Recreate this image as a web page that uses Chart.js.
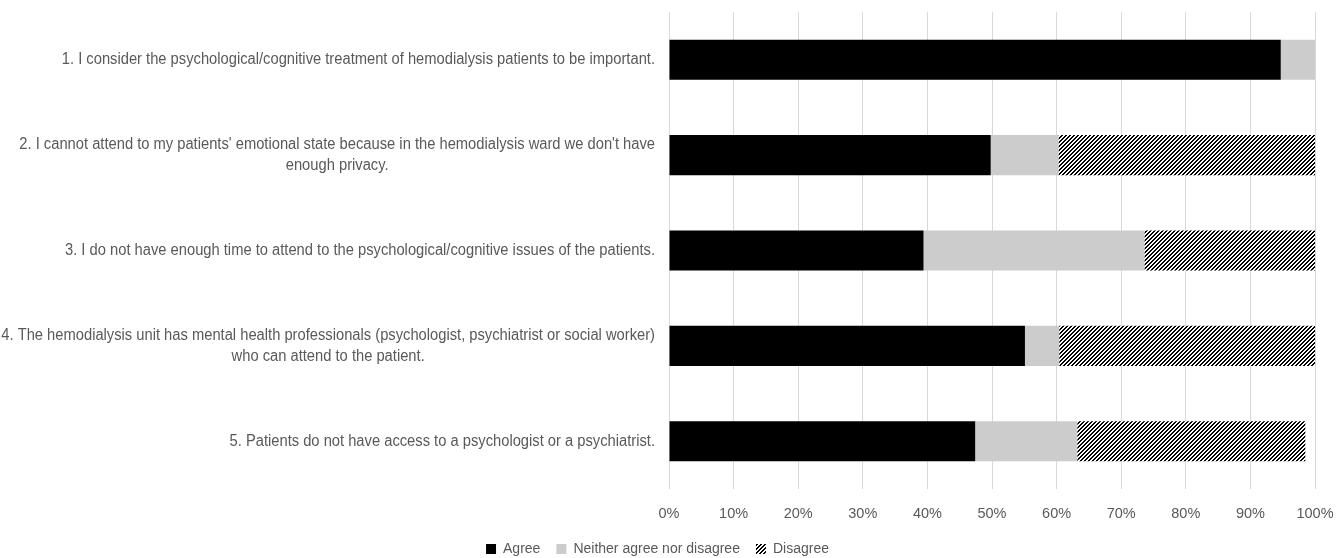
<!DOCTYPE html>
<html>
<head>
<meta charset="utf-8">
<script src="https://cdn.jsdelivr.net/npm/chart.js@4.4.0/dist/chart.umd.min.js"></script>
<style>
  html, body { margin: 0; padding: 0; background: #fff; }
  #wrap { width: 1344px; height: 558px; }
</style>
</head>
<body>
<div id="wrap"><canvas id="bar_chart"></canvas></div>
<script>
var statements = [
    ["1. I consider the psychological/cognitive treatment of hemodialysis patients to be important."],
    ["2. I cannot attend to my patients' emotional state because in the hemodialysis ward we don't have", "enough privacy."],
    ["3. I do not have enough time to attend to the psychological/cognitive issues of the patients."],
    ["4. The hemodialysis unit has mental health professionals (psychologist, psychiatrist or social worker)", "who can attend to the patient."],
    ["5. Patients do not have access to a psychologist or a psychiatrist."]
];
var agree    = [94.7, 49.8, 39.4, 55.1, 47.4];
var neither  = [5.3, 10.5, 34.2, 5.3, 15.8];
var disagree = [0, 39.7, 26.4, 39.6, 35.3];
var xTicks = ["0%", "10%", "20%", "30%", "40%", "50%", "60%", "70%", "80%", "90%", "100%"];

var textColor = '#595959';
var labelFont = '16px "Liberation Sans", sans-serif';
var condense = 0.92;

// dark upward diagonal fill for the "Disagree" series
function hatchPattern() {
    var c = document.createElement('canvas');
    c.width = 8;
    c.height = 8;
    var g = c.getContext('2d');
    g.fillStyle = '#fff';
    g.fillRect(0, 0, 8, 8);
    g.fillStyle = '#000';
    for (var y = 0; y < 8; y++) {
        for (var x = 0; x < 8; x++) {
            if ((x + y) % 4 < 2) g.fillRect(x, y, 1, 1);
        }
    }
    return g.createPattern(c, 'repeat');
}

// statement labels: right aligned, wrapped lines centred under the first one
var statementLabels = {
    id: 'statementLabels',
    afterDraw: function (chart) {
        var ctx = chart.ctx;
        var yScale = chart.scales.y;
        var right = chart.chartArea.left - 14;
        ctx.save();
        ctx.font = labelFont;
        ctx.fillStyle = textColor;
        ctx.textAlign = 'center';
        ctx.textBaseline = 'middle';
        statements.forEach(function (lines, i) {
            var widths = lines.map(function (l) { return ctx.measureText(l).width * condense; });
            var cx = right - Math.max.apply(null, widths) / 2;
            var cy = yScale.getPixelForValue(i);
            lines.forEach(function (line, k) {
                ctx.fillText(line, cx, cy + (k - (lines.length - 1) / 2) * 20.5, widths[k]);
            });
        });
        ctx.restore();
    }
};

new Chart(document.getElementById('bar_chart').getContext('2d'), {
    type: 'bar',
    data: {
        labels: statements.map(function (l) { return l.join(' '); }),
        datasets: [{
            label: 'Agree',
            data: agree,
            backgroundColor: '#000000'
        }, {
            label: 'Neither agree nor disagree',
            data: neither,
            backgroundColor: '#cccccc'
        }, {
            label: 'Disagree',
            data: disagree,
            backgroundColor: hatchPattern()
        }]
    },
    options: {
        indexAxis: 'y',
        responsive: true,
        maintainAspectRatio: false,
        animation: false,
        barPercentage: 0.42,
        categoryPercentage: 1,
        layout: { padding: { top: 12, right: 29, left: 0, bottom: -8 } },
        scales: {
            x: {
                stacked: true,
                min: 0,
                max: 100,
                border: { display: false },
                grid: { color: '#d9d9d9', drawTicks: false },
                ticks: {
                    stepSize: 10,
                    padding: 16,
                    color: textColor,
                    font: { family: '"Liberation Sans", sans-serif', size: 14.5 },
                    callback: function (v, i) { return xTicks[i]; }
                },
                afterFit: function (scale) {
                    scale.height = 37;
                    scale.paddingRight = 0;
                }
            },
            y: {
                stacked: true,
                grid: { display: false },
                border: { display: false },
                ticks: { display: false },
                afterFit: function (scale) { scale.width = 669; }
            }
        },
        plugins: {
            legend: {
                position: 'bottom',
                labels: {
                    boxWidth: 10,
                    boxHeight: 10,
                    padding: 16,
                    color: textColor,
                    font: { family: '"Liberation Sans", sans-serif', size: 14 }
                }
            },
            tooltip: { enabled: false }
        }
    },
    plugins: [statementLabels]
});
</script>
</body>
</html>
